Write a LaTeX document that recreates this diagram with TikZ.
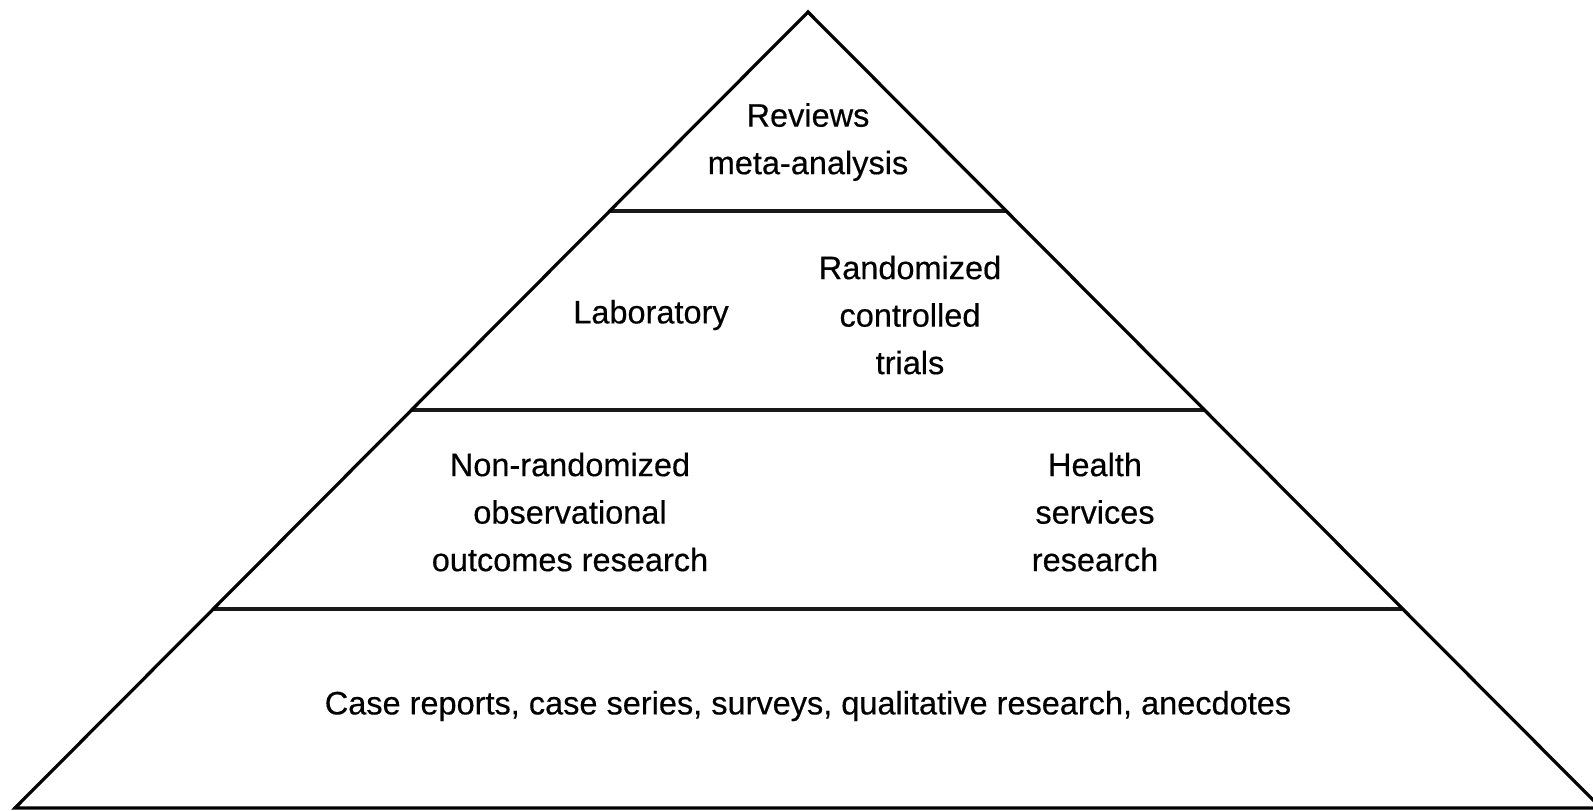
\documentclass[tikz,border=0pt]{standalone}
\usepackage{fontspec}
\setmainfont[FakeStretch=1.0,FakeBold=0.4]{Liberation Sans}
\usetikzlibrary{calc}
\begin{document}
\begin{tikzpicture}[x=1pt,y=-1pt,
  edge/.style={line width=3.2pt,black,line join=miter},
  level/.style={line width=3.4pt,black!90},
  lbl/.style={inner sep=0pt,align=center,font=\fontsize{32.5}{47.5}\selectfont}]
\useasboundingbox (0,0) rectangle (1593,811);
\clip (0,0) rectangle (1593,811);
\fill[white] (0,0) rectangle (1593,811);
\coordinate (A) at (808,12);
\coordinate (BL) at (15,808);
\coordinate (BR) at (1601,808);
\coordinate (L1) at ($(A)!0.25!(BL)$);
\coordinate (R1) at ($(A)!0.25!(BR)$);
\coordinate (L2) at ($(A)!0.5!(BL)$);
\coordinate (R2) at ($(A)!0.5!(BR)$);
\coordinate (L3) at ($(A)!0.75!(BL)$);
\coordinate (R3) at ($(A)!0.75!(BR)$);
\draw[level] (L1) -- (R1);
\draw[level] (L2) -- (R2);
\draw[level] (L3) -- (R3);
\draw[edge] (BL) -- (A) -- (BR) -- cycle;
\node[lbl] (rev) at (808,142) {Reviews\\meta-analysis};
\node[lbl] (lab) at (651,315) {Laboratory};
\node[lbl] (rct) at (910,315) {Randomized\\controlled\\trials};
\node[lbl] (nonr) at (570,512) {Non-randomized\\observational\\outcomes research};
\node[lbl] (hsr) at (1095,512) {Health\\services\\research};
\node[lbl] (case) at (808,706) {Case reports, case series, surveys, qualitative research, anecdotes};
\end{tikzpicture}
\end{document}
